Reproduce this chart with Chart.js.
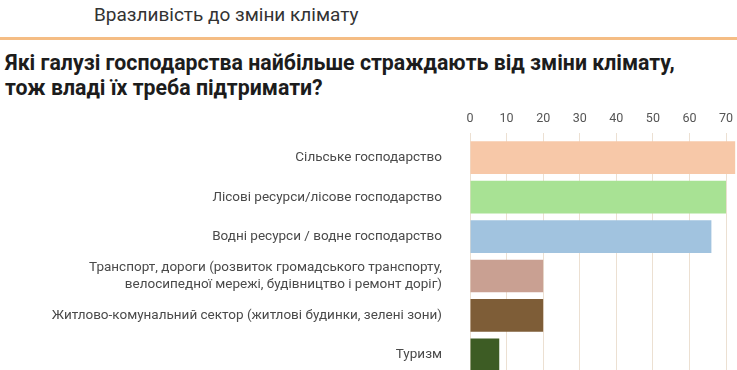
<!DOCTYPE html>
<html>
<head>
<meta charset="utf-8">
<script src="https://cdn.jsdelivr.net/npm/chart.js@4/dist/chart.umd.min.js"></script>
<style>
  html, body { margin: 0; padding: 0; background: #fff; overflow: hidden; width: 737px; height: 370px; }
  body { position: relative; font-family: Roboto, "Noto Sans", sans-serif; }
  .topic { position: absolute; left: 94px; top: 3px; font-size: 19px; color: #333; }
  .rule { position: absolute; left: 0; top: 37px; width: 737px; height: 3px; background: #f5bd84; }
  .question { position: absolute; left: 5px; top: 50px; font-size: 21.3px; font-weight: bold; color: #1c1c1c; line-height: 25px; }
  #wrap { position: absolute; left: 0; top: 100px; width: 737px; height: 311px; }
</style>
</head>
<body>
<div class="topic">Вразливість до зміни клімату</div>
<div class="rule"></div>
<div class="question">Які галузі господарства найбільше страждають від зміни клімату,<br>тож владі їх треба підтримати?</div>
<div id="wrap"><canvas id="chart" width="737" height="311"></canvas></div>
<script>
const categories = [
  "Сільське господарство",
  "Лісові ресурси/лісове господарство",
  "Водні ресурси / водне господарство",
  ["Транспорт, дороги (розвиток громадського транспорту,", "велосипедної мережі, будівництво і ремонт доріг)"],
  "Житлово-комунальний сектор (житлові будинки, зелені зони)",
  "Туризм"
];
const values = [72.5, 70, 66, 20, 20, 8];
const barColors = ["#f7c8a8", "#a8e294", "#a1c3df", "#c9a092", "#7e5d37", "#3d5c24"];

const ctx = document.getElementById("chart").getContext("2d");
new Chart(ctx, {
  type: "bar",
  data: {
    labels: categories,
    datasets: [
      {
        data: values,
        backgroundColor: barColors,
        borderWidth: 0,
        barPercentage: 0.83,
        categoryPercentage: 1
      }
    ]
  },
  options: {
    indexAxis: "y",
    responsive: false,
    maintainAspectRatio: false,
    animation: false,
    layout: { padding: { top: 0, right: 0, bottom: 0, left: 0 } },
    plugins: {
      legend: { display: false },
      tooltip: { enabled: false }
    },
    scales: {
      x: {
        position: "top",
        min: 0,
        max: 73,
        border: { display: false },
        grid: { color: "#ece0d2", lineWidth: 1, tickLength: 5, drawTicks: true },
        ticks: {
          stepSize: 10,
          includeBounds: false,
          padding: 7,
          color: "#555",
          font: { family: "Roboto", size: 12.5 }
        },
        afterFit: function (scale) {
          scale.height = 38;
          scale.paddingLeft = 0;
          scale.paddingRight = 0;
        }
      },
      y: {
        border: { display: false },
        grid: { display: false, drawTicks: false },
        ticks: {
          autoSkip: false,
          padding: 28,
          color: "#4a4a4a",
          font: { family: "Roboto", size: 13.5, lineHeight: 1.25 }
        },
        afterFit: function (scale) {
          scale.width = 470;
        }
      }
    }
  }
});
</script>
</body>
</html>
